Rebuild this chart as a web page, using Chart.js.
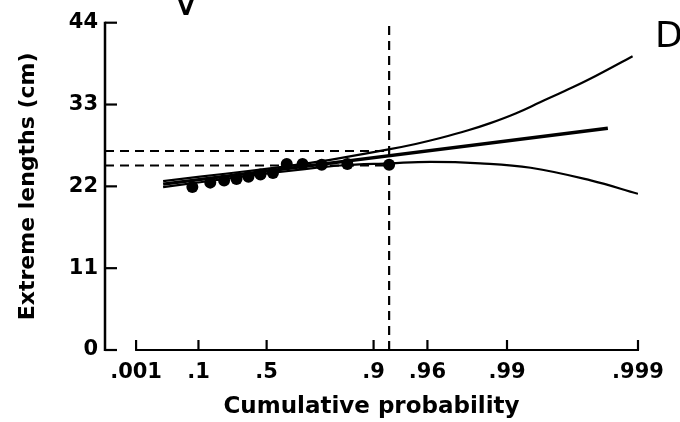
<!DOCTYPE html>
<html>
<head>
<meta charset="utf-8">
<script src="https://cdn.jsdelivr.net/npm/chart.js@4.4.1/dist/chart.umd.min.js"></script>
<style>
  html, body { margin: 0; padding: 0; background: #fff; }
  #wrap { width: 680px; height: 422px; }
</style>
</head>
<body>
<div id="wrap"><canvas id="chart"></canvas></div>
<script>
// Axis ticks (cumulative probability on a Gumbel scale)
const tickProbs = [0.001, 0.1, 0.5, 0.9, 0.96, 0.99, 0.999];
const tickLabels = ['.001', '.1', '.5', '.9', '.96', '.99', '.999'];
const lengthTicks = [0, 11, 22, 33, 44];

// Observed extremes (plotting positions) and lengths (cm)
const obsProb = [0.077, 0.154, 0.231, 0.308, 0.385, 0.462, 0.538, 0.615, 0.692, 0.769, 0.846, 0.923];
const obsLength = [21.9, 22.5, 22.8, 23.0, 23.3, 23.6, 23.8, 25.0, 25.0, 24.9, 25.0, 24.9];

// Fitted line and confidence curves
const fitProb = [0.0137, 0.9983];
const fitLength = [22.3, 29.8];
const upperProb = [0.0137, 0.107, 0.396, 0.681, 0.827, 0.924, 0.951, 0.968, 0.9800, 0.9866, 0.9914, 0.9944, 0.9964, 0.9977, 0.9989];
const upperLength = [22.7, 23.3, 24.1, 24.95, 25.8, 27.0, 27.7, 28.5, 29.5, 30.5, 31.8, 33.3, 34.85, 36.5, 39.5];
const lowerProb = [0.0137, 0.107, 0.396, 0.681, 0.827, 0.924, 0.962, 0.984, 0.9934, 0.9977, 0.999];
const lowerLength = [21.9, 22.55, 23.45, 24.25, 24.8, 25.1, 25.3, 25.1, 24.5, 22.8, 21.0];

// Dashed reference lines
const refProb = 0.923;
const refHigh = 26.75;
const refLow = 24.8;
const refTop = 43.7;

const X_MIN = -2.48;
const FONT = "'DejaVu Sans', sans-serif";

// reduced variate of the Gumbel distribution
function gumbel(p) {
    return -Math.log(-Math.log(p));
}

function toPoints(probs, values) {
    return probs.map((p, i) => ({ x: gumbel(p), y: values[i] }));
}

const tickValues = tickProbs.map(gumbel);

const inwardAxes = {
    id: 'inwardAxes',
    afterDatasetsDraw(chart) {
        const { ctx, chartArea, scales } = chart;
        const xs = scales.x, ys = scales.y;
        ctx.save();
        ctx.strokeStyle = '#000';
        ctx.lineCap = 'butt';

        // y axis + ticks pointing right
        ctx.lineWidth = 2.5;
        ctx.beginPath();
        ctx.moveTo(chartArea.left, ys.getPixelForValue(44) - 1);
        ctx.lineTo(chartArea.left, ys.getPixelForValue(0) + 1);
        ctx.stroke();
        ctx.lineWidth = 2.2;
        lengthTicks.forEach(v => {
            const y = ys.getPixelForValue(v);
            ctx.beginPath();
            ctx.moveTo(chartArea.left, y);
            ctx.lineTo(chartArea.left + 12, y);
            ctx.stroke();
        });

        // x axis from .001 to .999 + ticks pointing up
        const yb = chartArea.bottom;
        ctx.lineWidth = 2.2;
        ctx.beginPath();
        ctx.moveTo(xs.getPixelForValue(tickValues[0]) - 1, yb);
        ctx.lineTo(xs.getPixelForValue(tickValues[tickValues.length - 1]) + 1, yb);
        ctx.stroke();
        tickValues.forEach(v => {
            const x = xs.getPixelForValue(v);
            ctx.beginPath();
            ctx.moveTo(x, yb);
            ctx.lineTo(x, yb - 10);
            ctx.stroke();
        });

        // panel letter and the clipped glyph at the top
        ctx.fillStyle = '#000';
        ctx.font = '36px ' + FONT;
        ctx.textAlign = 'left';
        ctx.textBaseline = 'alphabetic';
        ctx.fillText('D', 655, 47);
        ctx.font = '40px ' + FONT;
        ctx.textAlign = 'center';
        ctx.fillText('V', 186, 15);
        ctx.restore();
    }
};

const dashed = { showLine: true, borderColor: '#000', borderWidth: 2.2, borderDash: [9, 6], pointRadius: 0 };

new Chart(document.getElementById('chart'), {
    type: 'scatter',
    data: {
        datasets: [
            { ...dashed, data: [{ x: X_MIN, y: refHigh }, { x: gumbel(refProb), y: refHigh }] },
            { ...dashed, data: [{ x: X_MIN, y: refLow }, { x: gumbel(refProb), y: refLow }] },
            { ...dashed, data: [{ x: gumbel(refProb), y: 0 }, { x: gumbel(refProb), y: refTop }] },
            {
                data: toPoints(upperProb, upperLength),
                showLine: true, borderColor: '#000', borderWidth: 2.2,
                tension: 0.4, pointRadius: 0
            },
            {
                data: toPoints(lowerProb, lowerLength),
                showLine: true, borderColor: '#000', borderWidth: 2.2,
                tension: 0.4, pointRadius: 0
            },
            {
                data: toPoints(fitProb, fitLength),
                showLine: true, borderColor: '#000', borderWidth: 3.5,
                pointRadius: 0
            },
            {
                data: toPoints(obsProb, obsLength),
                showLine: false, pointRadius: 6,
                pointBackgroundColor: '#000', pointBorderColor: '#000', pointBorderWidth: 0
            }
        ]
    },
    options: {
        responsive: true,
        maintainAspectRatio: false,
        animation: false,
        devicePixelRatio: 1,
        layout: { padding: { left: 0, right: 42, top: 22.7, bottom: 0 } },
        plugins: {
            legend: { display: false },
            tooltip: { enabled: false }
        },
        scales: {
            x: {
                type: 'linear',
                min: X_MIN,
                max: gumbel(0.999),
                grid: { display: false, drawTicks: false },
                border: { display: false },
                afterFit: s => { s.height = 72; },
                afterBuildTicks: s => { s.ticks = tickValues.map(v => ({ value: v })); },
                ticks: {
                    color: '#000',
                    padding: 10,
                    maxRotation: 0,
                    autoSkip: false,
                    font: { family: FONT, size: 21, weight: 'bold' },
                    callback: (v, i) => tickLabels[i]
                },
                title: {
                    display: true,
                    text: 'Cumulative probability',
                    color: '#000',
                    font: { family: FONT, size: 23, weight: 'bold' },
                    padding: { top: 0, bottom: 1 }
                }
            },
            y: {
                min: 0,
                max: 44,
                grid: { display: false, drawTicks: false },
                border: { display: false },
                afterFit: s => { s.width = 105; },
                afterBuildTicks: s => { s.ticks = lengthTicks.map(v => ({ value: v })); },
                ticks: {
                    color: '#000',
                    padding: 7,
                    font: { family: FONT, size: 21, weight: 'bold' },
                    callback: v => String(v)
                },
                title: {
                    display: true,
                    text: 'Extreme lengths (cm)',
                    color: '#000',
                    font: { family: FONT, size: 22, weight: 'bold' },
                    padding: { top: 15, bottom: 0 }
                }
            }
        }
    },
    plugins: [inwardAxes]
});
</script>
</body>
</html>
